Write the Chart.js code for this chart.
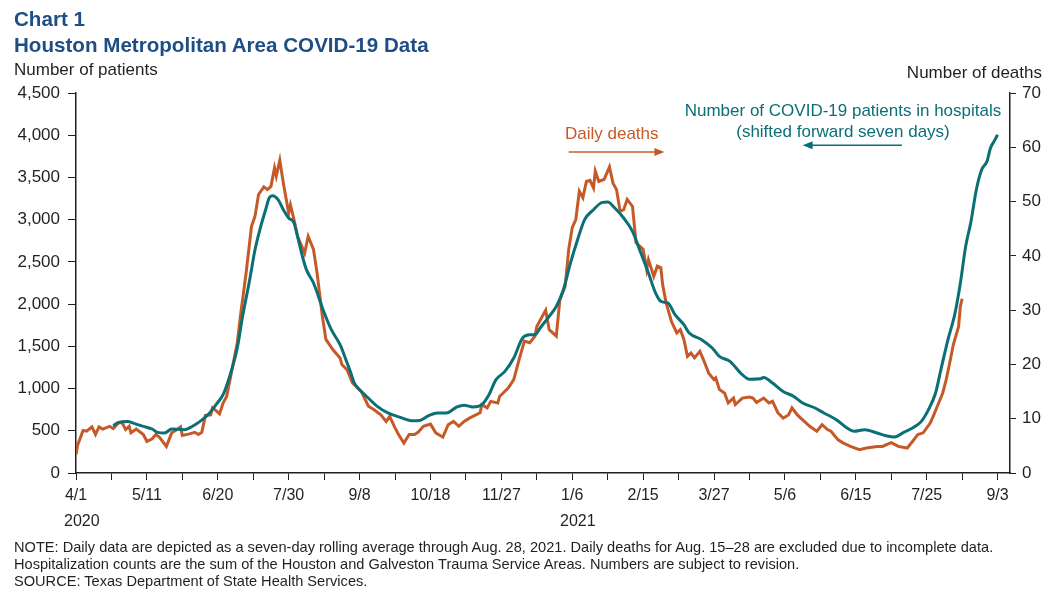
<!DOCTYPE html>
<html>
<head>
<meta charset="utf-8">
<script src="https://cdn.jsdelivr.net/npm/chart.js@4/dist/chart.umd.min.js"></script>
<style>
  html, body { margin: 0; padding: 0; background: #fff; }
  #wrap { position: relative; width: 1054px; height: 601px; overflow: hidden; font-family: "Liberation Sans", Arial, sans-serif; color: #231f20; }
  #wrap canvas { position: absolute; left: 0; top: 0; }
  .t { position: absolute; white-space: nowrap; line-height: 1; }
  .title { font-weight: bold; font-size: 20.6px; color: #1f4e85; left: 14px; }
  .axt { font-size: 17px; }
  .note { font-size: 14.6px; left: 14px; }
</style>
</head>
<body>
<div id="wrap">
  <canvas id="c" width="1054" height="601"></canvas>
  <div class="t title" style="top:9px;">Chart 1</div>
  <div class="t title" style="top:35px;">Houston Metropolitan Area COVID-19 Data</div>
  <div class="t axt" style="left:14px; top:61px;">Number of patients</div>
  <div class="t axt" style="right:12px; top:64px;">Number of deaths</div>
  <div class="t axt" style="left:565px; top:125px; color:#c55a28;">Daily deaths</div>
  <div class="t axt" style="left:843px; top:102px; color:#0b6f76; transform:translateX(-50%);">Number of COVID-19 patients in hospitals</div>
  <div class="t axt" style="left:843px; top:123px; color:#0b6f76; transform:translateX(-50%);">(shifted forward seven days)</div>
  <div class="t" style="font-size:16px; left:64px; top:513px;">2020</div>
  <div class="t" style="font-size:16px; left:560px; top:513px;">2021</div>
  <div class="t note" style="top:540px;">NOTE: Daily data are depicted as a seven-day rolling average through Aug. 28, 2021. Daily deaths for Aug. 15–28 are excluded due to incomplete data.</div>
  <div class="t note" style="top:557px;">Hospitalization counts are the sum of the Houston and Galveston Trauma Service Areas. Numbers are subject to revision.</div>
  <div class="t note" style="top:574px;">SOURCE: Texas Department of State Health Services.</div>
</div>
<script>
// x values are days since 4/1/2020
const xTickLabels = ['4/1','5/11','6/20','7/30','9/8','10/18','11/27','1/6','2/15','3/27','5/6','6/15','7/25','9/3'];
const leftTicks = [0,500,1000,1500,2000,2500,3000,3500,4000,4500];
const rightTicks = [0,10,20,30,40,50,60,70];

const deathDays = [0,1,4,6,9,11,13,15,19,21,24,26,28,30,31,34,38,40,43,45,47,51,54,57,59,60,64,67,69,71,73,76,77,79,81,83,85,88,91,93,96,99,101,103,106,108,110,112,113,115,117,120,121,123,125,129,131,134,136,139,141,145,149,150,153,156,161,165,168,172,175,177,180,182,185,188,191,193,196,200,203,207,210,213,216,219,222,228,229,232,234,238,239,244,247,250,253,256,259,260,265,267,271,273,276,278,280,282,284,286,288,290,292,293,295,298,301,303,305,307,309,311,314,316,320,322,323,326,328,330,331,333,336,339,341,343,345,347,349,352,354,357,360,361,363,366,368,371,372,376,380,382,384,388,391,393,396,399,402,404,407,410,414,418,421,424,426,430,433,437,442,446,452,455,460,464,469,472,475,478,482,484,486,489,491,493,495,498,499,500];
const deathValues = [3.4,5.2,7.85,7.7,8.5,7.1,8.5,8.1,8.6,8.2,9.2,9.3,8.0,8.6,7.4,8.1,7.1,5.8,6.3,7.1,6.6,4.9,7.4,8.0,8.5,6.9,7.2,7.5,7.1,7.5,10.6,10.7,12.0,11.5,10.9,12.9,14.1,19.0,24.0,29.5,36.9,45.4,47.3,51.3,52.7,52.2,52.8,56.2,54.7,57.6,53.4,47.9,49.4,46.7,43.6,40.5,43.6,41.2,36.9,28.9,24.6,22.7,21.2,20.0,19.0,16.6,15.0,12.3,11.7,10.7,9.5,10.4,8.3,7.1,5.5,7.1,7.1,7.5,8.6,9.0,7.4,6.6,8.9,9.5,8.6,9.5,10.1,11.1,12.6,12.0,13.2,12.9,14.1,15.7,17.2,20.9,24.3,24.0,25.2,27.0,30.0,26.4,25.2,31.9,34.4,41.2,45.2,46.7,51.9,50.7,53.7,53.9,52.5,55.6,53.7,54.1,56.4,53.4,52.2,48.2,48.5,50.4,49.1,42.4,41.2,37.5,39.3,36.2,38.1,37.8,34.7,31.3,27.9,25.8,26.4,24.6,21.5,22.1,21.2,22.4,20.9,18.4,17.2,17.5,15.4,14.7,12.9,13.8,12.6,13.8,14.0,13.8,13.0,13.8,12.9,13.2,11.1,10.1,10.7,12.0,10.7,9.8,8.6,7.7,8.9,8.0,7.7,6.1,5.5,4.9,4.3,4.6,4.9,4.9,5.6,4.9,4.6,5.8,7.1,7.4,9.2,10.7,12.3,14.7,17.2,20.3,23.6,27.0,30.7,32.1];

const hospDays = [21,24,29,33,38,43,46,50,54,61,65,70,75,79,83,87,91,94,98,101,104,107,109,111,114,117,120,123,125,128,130,134,140,144,149,153,155,157,160,163,170,176,183,190,194,199,204,209,215,219,224,229,233,237,242,247,252,256,259,262,267,271,275,279,283,287,292,297,300,304,309,314,318,323,327,330,334,338,343,346,353,359,363,369,375,380,386,388,393,399,405,410,417,422,429,435,439,445,452,457,462,467,472,477,481,485,488,492,496,499,502,505,508,511,514,516,518,520];
const hospValues = [560,600,611,584,552,521,481,474,521,513,545,611,702,809,927,1164,1480,1855,2289,2644,2901,3118,3257,3284,3237,3118,3020,2961,2802,2546,2408,2250,1900,1700,1519,1303,1190,1066,986,927,789,711,659,619,623,679,711,711,782,801,782,809,927,1105,1203,1362,1599,1638,1638,1720,1855,1973,2171,2487,2763,3000,3118,3205,3209,3138,3020,2861,2644,2369,2132,2032,2013,1875,1756,1658,1579,1480,1381,1322,1184,1110,1115,1132,1066,966,907,829,770,711,631,533,493,513,474,442,426,481,533,611,750,947,1223,1579,1895,2250,2684,2980,3355,3592,3690,3849,3927,4006];

const ORANGE = '#c55a28';
const TEAL = '#0b6f76';

// annotation arrows, in data space (x: days, y: patients scale)
const arrows = [
  { from: 278, to: 332, y: 3800, color: ORANGE },
  { from: 466, to: 410, y: 3880, color: TEAL }
];

const arrowPlugin = {
  id: 'arrows',
  afterDatasetsDraw(chart) {
    const ctx = chart.ctx, xs = chart.scales.x, ys = chart.scales.y;
    arrows.forEach(a => {
      const x1 = xs.getPixelForValue(a.from), x2 = xs.getPixelForValue(a.to), y = ys.getPixelForValue(a.y);
      const dir = Math.sign(x2 - x1);
      ctx.save();
      ctx.strokeStyle = a.color; ctx.fillStyle = a.color; ctx.lineWidth = 1.5;
      ctx.beginPath(); ctx.moveTo(x1, y); ctx.lineTo(x2 - dir * 8, y); ctx.stroke();
      ctx.beginPath(); ctx.moveTo(x2, y); ctx.lineTo(x2 - dir * 10, y - 4); ctx.lineTo(x2 - dir * 10, y + 4); ctx.closePath(); ctx.fill();
      ctx.restore();
    });
  }
};

const fontFam = '"Liberation Sans", Arial, sans-serif';
const fmt = v => v.toString().replace(/\B(?=(\d{3})+(?!\d))/g, ',');

new Chart(document.getElementById('c'), {
  type: 'line',
  data: {
    datasets: [
      {
        label: 'Number of COVID-19 patients in hospitals',
        data: hospDays.map((d, i) => ({ x: d, y: hospValues[i] })),
        yAxisID: 'y', borderColor: TEAL, borderWidth: 3, pointRadius: 0,
        cubicInterpolationMode: 'monotone', fill: false
      },
      {
        label: 'Daily deaths',
        data: deathDays.map((d, i) => ({ x: d, y: deathValues[i] })),
        yAxisID: 'y1', borderColor: ORANGE, borderWidth: 3, pointRadius: 0,
        tension: 0, fill: false
      }
    ]
  },
  options: {
    responsive: false, animation: false, devicePixelRatio: 1,
    layout: { padding: { top: 93, left: 0, right: 0, bottom: 0 } },
    plugins: { legend: { display: false }, tooltip: { enabled: false }, title: { display: false } },
    scales: {
      x: {
        type: 'linear', min: 0, max: 527,
        afterFit: s => { s.height = 128; },
        afterBuildTicks: s => {
          const t = [];
          for (let i = 0; i < xTickLabels.length; i++) {
            t.push({ value: i * 40 });
            if (i < xTickLabels.length - 1) t.push({ value: i * 40 + 20 });
          }
          s.ticks = t;
        },
        grid: { drawOnChartArea: false, drawTicks: true, tickLength: 7, color: '#231f20', lineWidth: 1 },
        border: { display: true, color: '#231f20', width: 1.5 },
        ticks: {
          autoSkip: false, maxRotation: 0, padding: 6, color: '#231f20',
          font: { size: 16, family: fontFam },
          callback: v => (v % 40 === 0 ? xTickLabels[v / 40] : '')
        }
      },
      y: {
        position: 'left', min: 0, max: 4500,
        afterFit: s => { s.width = 76; },
        afterBuildTicks: s => { s.ticks = leftTicks.map(v => ({ value: v })); },
        grid: { drawOnChartArea: false, drawTicks: true, tickLength: 8, color: '#231f20', lineWidth: 1 },
        border: { display: true, color: '#231f20', width: 1.5 },
        ticks: { padding: 8, color: '#231f20', font: { size: 17, family: fontFam }, callback: v => fmt(v) }
      },
      y1: {
        position: 'right', min: 0, max: 70,
        afterFit: s => { s.width = 44; },
        afterBuildTicks: s => { s.ticks = rightTicks.map(v => ({ value: v })); },
        grid: { drawOnChartArea: false, drawTicks: true, tickLength: 6, color: '#231f20', lineWidth: 1 },
        border: { display: true, color: '#231f20', width: 1.5 },
        ticks: { padding: 6, color: '#231f20', font: { size: 17, family: fontFam } }
      }
    }
  },
  plugins: [arrowPlugin]
});
</script>
</body>
</html>
